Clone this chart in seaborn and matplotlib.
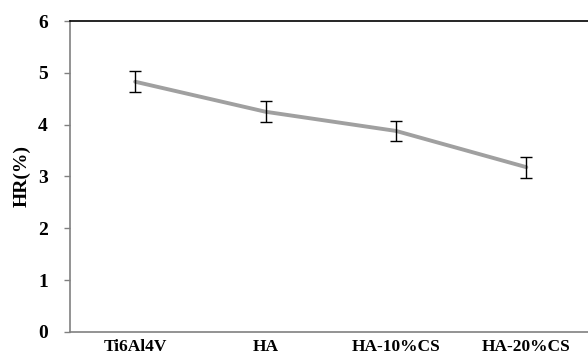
import pandas as pd
import seaborn as sns
import matplotlib.pyplot as plt

# values
samples = ['Ti6Al4V', 'HA', 'HA-10%CS', 'HA-20%CS']
hr = [4.83, 4.25, 3.88, 3.18]
hr_err = [0.2, 0.2, 0.2, 0.2]

df = pd.DataFrame({'sample': samples, 'HR': hr, 'err': hr_err})

sns.set_style('white')
plt.rcParams['font.family'] = ['Liberation Serif', 'DejaVu Serif']
plt.rcParams['text.color'] = 'black'

fig = plt.figure(figsize=(5.88, 3.58), dpi=100)
ax = fig.add_axes([0.119, 0.073, 0.887, 0.868])

sns.lineplot(data=df, x='sample', y='HR', color='#a0a0a0', linewidth=2.8, ax=ax, sort=False)
ax.errorbar(range(len(samples)), df['HR'], yerr=df['err'], fmt='none',
            ecolor='black', elinewidth=1, capsize=4, capthick=1)

ax.set_xlim(-0.5, 3.5)
ax.set_ylim(0, 6)
ax.set_yticks(range(0, 7))
ax.set_xlabel('')
ax.set_ylabel('HR(%)', fontsize=14, fontweight='bold', color='black', labelpad=5)

for lab in ax.get_xticklabels() + ax.get_yticklabels():
    lab.set_fontweight('bold')
ax.tick_params(axis='y', labelsize=14, labelcolor='black', length=4, width=1,
               color='#808080', direction='out', left=True, pad=12)
ax.tick_params(axis='x', labelsize=12.5, labelcolor='black', length=0, pad=5)

ax.spines['left'].set_color('#808080')
ax.spines['left'].set_linewidth(1.2)
ax.spines['bottom'].set_color('#808080')
ax.spines['bottom'].set_linewidth(1.2)
ax.spines['top'].set_color('black')
ax.spines['top'].set_linewidth(1.2)
ax.spines['right'].set_visible(False)

plt.savefig('out.png', dpi=100)
